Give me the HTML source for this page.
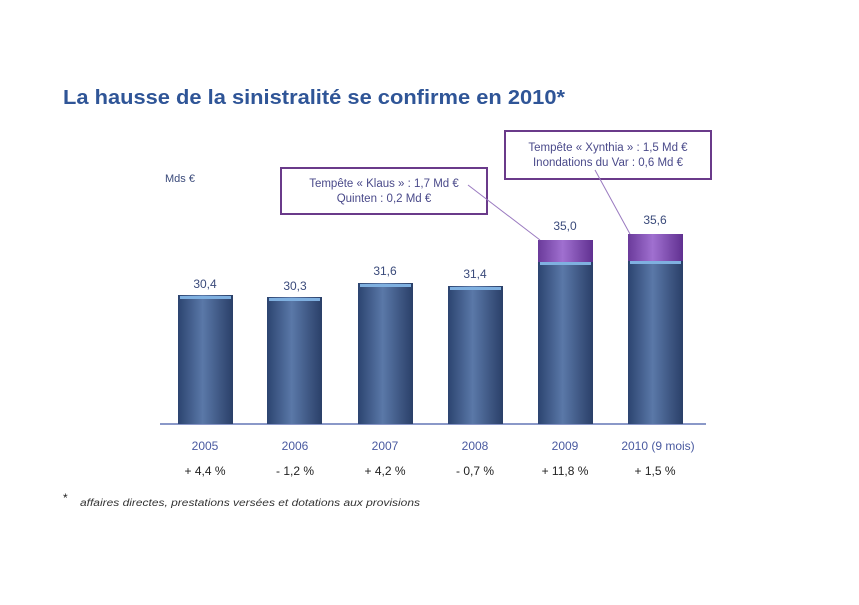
<!DOCTYPE html>
<html><head><meta charset="utf-8"><style>
body{margin:0;background:#fff;}
</style></head><body>
<svg width="859" height="600" xmlns="http://www.w3.org/2000/svg" font-family="Liberation Sans, sans-serif">
<defs>
<linearGradient id="b" x1="0" x2="1" y1="0" y2="0">
<stop offset="0" stop-color="#2c4470"/><stop offset="0.45" stop-color="#5a78a8"/><stop offset="1" stop-color="#2a3f68"/>
</linearGradient>
<linearGradient id="p" x1="0" x2="1" y1="0" y2="0">
<stop offset="0" stop-color="#6a3a9a"/><stop offset="0.45" stop-color="#a070d0"/><stop offset="1" stop-color="#603090"/>
</linearGradient>
</defs>
<text x="63" y="104" font-size="20" font-weight="bold" fill="#2f5597" textLength="502" lengthAdjust="spacingAndGlyphs">La hausse de la sinistralité se confirme en 2010*</text>
<text x="165" y="182" font-size="11" fill="#3a4a7a">Mds €</text>
<line x1="160" y1="424" x2="706" y2="424" stroke="#8a98c8" stroke-width="2"/>
<g>
<rect x="178" y="295" width="55" height="129" fill="url(#b)"/><rect x="180" y="296" width="51" height="3" fill="#7fb0e0"/>
<rect x="267" y="297" width="55" height="127" fill="url(#b)"/><rect x="269" y="298" width="51" height="3" fill="#7fb0e0"/>
<rect x="358" y="283" width="55" height="141" fill="url(#b)"/><rect x="360" y="284" width="51" height="3" fill="#7fb0e0"/>
<rect x="448" y="286" width="55" height="138" fill="url(#b)"/><rect x="450" y="287" width="51" height="3" fill="#7fb0e0"/>
<rect x="538" y="262" width="55" height="162" fill="url(#b)"/><rect x="540" y="262" width="51" height="3" fill="#7fb0e0"/>
<rect x="538" y="240" width="55" height="22" fill="url(#p)"/>
<rect x="628" y="261" width="55" height="163" fill="url(#b)"/><rect x="630" y="261" width="51" height="3" fill="#7fb0e0"/>
<rect x="628" y="234" width="55" height="27" fill="url(#p)"/>
</g>
<g font-size="12" fill="#3a4a7a" text-anchor="middle">
<text x="205" y="288">30,4</text><text x="295" y="290">30,3</text><text x="385" y="275">31,6</text>
<text x="475" y="278">31,4</text><text x="565" y="230">35,0</text><text x="655" y="224">35,6</text>
<g fill="#4a5aa0"><text x="205" y="450">2005</text><text x="295" y="450">2006</text><text x="385" y="450">2007</text>
<text x="475" y="450">2008</text><text x="565" y="450">2009</text><text x="658" y="450">2010 (9 mois)</text></g>
<g fill="#222"><text x="205" y="475">+ 4,4 %</text><text x="295" y="475">- 1,2 %</text><text x="385" y="475">+ 4,2 %</text>
<text x="475" y="475">- 0,7 %</text><text x="565" y="475">+ 11,8 %</text><text x="655" y="475">+ 1,5 %</text></g>
</g>
<rect x="281" y="168" width="206" height="46" fill="#fff" stroke="#6a3a8a" stroke-width="2"/>
<text x="384" y="187" font-size="11.5" fill="#4a4a8a" text-anchor="middle">Tempête « Klaus » : 1,7 Md €</text>
<text x="384" y="202" font-size="11.5" fill="#4a4a8a" text-anchor="middle">Quinten : 0,2 Md €</text>
<rect x="505" y="131" width="206" height="48" fill="#fff" stroke="#6a3a8a" stroke-width="2"/>
<text x="608" y="151" font-size="11.5" fill="#4a4a8a" text-anchor="middle">Tempête « Xynthia » : 1,5 Md €</text>
<text x="608" y="166" font-size="11.5" fill="#4a4a8a" text-anchor="middle">Inondations du Var : 0,6 Md €</text>
<line x1="468" y1="185" x2="540" y2="240" stroke="#9a7ac0" stroke-width="1"/>
<line x1="595" y1="170" x2="630" y2="234" stroke="#9a7ac0" stroke-width="1"/>
<text x="63" y="502" font-size="12" fill="#222">*</text>
<text x="80" y="506" font-size="10" font-style="italic" fill="#333" textLength="340" lengthAdjust="spacingAndGlyphs">affaires directes, prestations versées et dotations aux provisions</text>
</svg>
</body></html>
